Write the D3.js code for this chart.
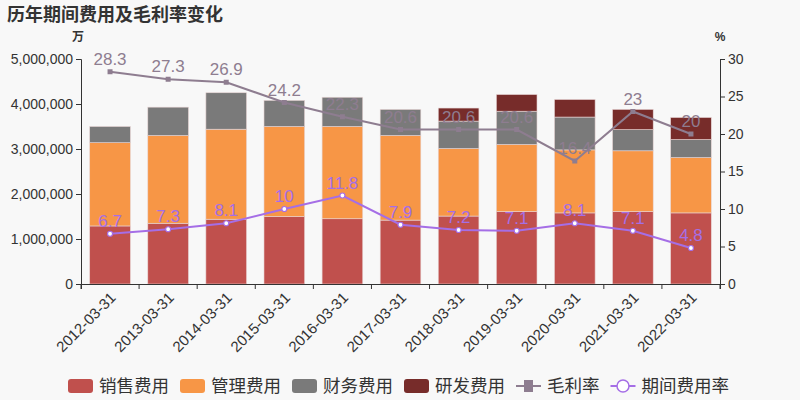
<!DOCTYPE html>
<html>
<head>
<meta charset="utf-8">
<script src="https://cdn.jsdelivr.net/npm/d3@7"></script>
<style>
  body { margin: 0; background: #f8f8f8; }
  svg { font-family: "Liberation Sans", "Noto Sans CJK SC", sans-serif; }
</style>
</head>
<body>
<div id="chart"></div>
<script>
// data, in 万
var years = ["2012-03-31","2013-03-31","2014-03-31","2015-03-31","2016-03-31","2017-03-31",
             "2018-03-31","2019-03-31","2020-03-31","2021-03-31","2022-03-31"];
var sales   = [1290000,1350000,1440000,1500000,1450000,1420000,1510000,1610000,1580000,1610000,1580000];
var admin   = [1850000,1950000,2000000,2000000,2050000,1880000,1500000,1490000,1400000,1350000,1230000];
var finance = [360000,630000,810000,580000,650000,580000,610000,740000,730000,470000,400000];
var rnd     = [0,0,0,0,0,0,290000,370000,390000,450000,490000];
var grossMargin = [28.3,27.3,26.9,24.2,22.3,20.6,20.6,20.6,16.4,23,20];
var expenseRate = [6.7,7.3,8.1,10,11.8,7.9,7.2,7.1,8.1,7.1,4.8];
var leftTicks = [0,1000000,2000000,3000000,4000000,5000000];
var rightTicks = [0,5,10,15,20,25,30];

var seriesNames = ["销售费用","管理费用","财务费用","研发费用"];
var seriesColors = ["#c0504d","#f79646","#7a7a7a","#772c2a"];
var gmColor = "#8e7d90";
var erColor = "#a56ee6";

var svgWidth = 800, svgHeight = 400;
var margin = {top: 59, right: 80, bottom: 116, left: 81};
var chartWidth = svgWidth - margin.left - margin.right;
var chartHeight = svgHeight - margin.top - margin.bottom;

var svg = d3.select("#chart").append("svg")
    .attr("width", svgWidth)
    .attr("height", svgHeight);

svg.append("rect").attr("width", svgWidth).attr("height", svgHeight).attr("fill", "#f8f8f8");

var chartGroup = svg.append("g")
    .attr("transform", `translate(${margin.left}, ${margin.top})`);

var xScale = d3.scaleBand().domain(years).range([0, chartWidth]).padding(0);
var yLeft = d3.scaleLinear().domain([0, 5000000]).range([chartHeight, 0]);
var yRight = d3.scaleLinear().domain([0, 30]).range([chartHeight, 0]);
var barW = xScale.bandwidth() * 0.7;

// stacked bars
var rows = years.map((y, i) => ({year: y, s0: sales[i], s1: admin[i], s2: finance[i], s3: rnd[i]}));
var stack = d3.stack().keys(["s0","s1","s2","s3"])(rows);

stack.forEach(function(layer, k) {
    chartGroup.append("g").selectAll("rect")
        .data(layer)
        .enter()
        .append("rect")
        .attr("x", d => xScale(d.data.year) + xScale.bandwidth() / 2 - barW / 2)
        .attr("y", d => yLeft(d[1]))
        .attr("width", barW)
        .attr("height", d => Math.max(0, yLeft(d[0]) - yLeft(d[1])))
        .attr("fill", seriesColors[k])
        .attr("stroke", d => d[1] > d[0] ? "#e8d6d6" : "none")
        .attr("stroke-width", 0.6);
});

// axes
var xAxis = d3.axisBottom(xScale).tickSize(5).tickFormat("");
var gx = chartGroup.append("g").attr("transform", `translate(0, ${chartHeight})`).call(xAxis);
gx.selectAll(".tick line").attr("transform", `translate(${-xScale.bandwidth() / 2}, 0)`);
gx.append("line").attr("x1", chartWidth).attr("x2", chartWidth).attr("y1", 0).attr("y2", 5).attr("stroke", "#333");
gx.select(".domain").attr("stroke", "#333");
gx.selectAll(".tick line").attr("stroke", "#333");

gx.selectAll(".tick").append("text")
    .attr("fill", "#333")
    .attr("font-size", 15)
    .attr("text-anchor", "end")
    .attr("transform", "translate(3, 11) rotate(-45)")
    .attr("dy", "0.35em")
    .text(d => d);

var gl = chartGroup.append("g").call(d3.axisLeft(yLeft).tickValues(leftTicks).tickSize(5).tickFormat(d3.format(",")));
gl.selectAll("text").attr("font-size", 14).attr("fill", "#333");
gl.select(".domain").attr("stroke", "#333");
gl.selectAll(".tick line").attr("stroke", "#333");

var gr = chartGroup.append("g").attr("transform", `translate(${chartWidth}, 0)`)
    .call(d3.axisRight(yRight).tickValues(rightTicks).tickSize(5));
gr.selectAll("text").attr("font-size", 14).attr("fill", "#333");
gr.select(".domain").attr("stroke", "#333");
gr.selectAll(".tick line").attr("stroke", "#333");

chartGroup.append("text").attr("x", -3).attr("y", -18).attr("text-anchor", "middle")
    .attr("font-size", 12).attr("font-weight", "bold").attr("fill", "#333").text("万");
chartGroup.append("text").attr("x", chartWidth).attr("y", -18).attr("text-anchor", "middle")
    .attr("font-size", 12).attr("font-weight", "bold").attr("fill", "#333").text("%");

// lines
var cx = d => xScale(d) + xScale.bandwidth() / 2;
var gmLine = d3.line().x((d, i) => cx(years[i])).y(d => yRight(d));

chartGroup.append("path").datum(grossMargin)
    .attr("d", gmLine).attr("fill", "none").attr("stroke", gmColor).attr("stroke-width", 2);
chartGroup.selectAll(".gm-pt").data(grossMargin).enter().append("rect")
    .attr("x", (d, i) => cx(years[i]) - 2.5).attr("y", d => yRight(d) - 2.5)
    .attr("width", 5).attr("height", 5).attr("fill", gmColor);
chartGroup.selectAll(".gm-lbl").data(grossMargin).enter().append("text")
    .attr("x", (d, i) => cx(years[i])).attr("y", d => yRight(d) - 7)
    .attr("text-anchor", "middle").attr("font-size", 17).attr("fill", gmColor)
    .text(d => d);

chartGroup.append("path").datum(expenseRate)
    .attr("d", gmLine).attr("fill", "none").attr("stroke", erColor).attr("stroke-width", 2);
chartGroup.selectAll(".er-pt").data(expenseRate).enter().append("circle")
    .attr("cx", (d, i) => cx(years[i])).attr("cy", d => yRight(d))
    .attr("r", 2.5).attr("fill", "#fff").attr("stroke", erColor).attr("stroke-width", 1.2);
chartGroup.selectAll(".er-lbl").data(expenseRate).enter().append("text")
    .attr("x", (d, i) => cx(years[i])).attr("y", d => yRight(d) - 7)
    .attr("text-anchor", "middle").attr("font-size", 17).attr("fill", erColor)
    .text(d => d);

// title
svg.append("text").attr("x", 7).attr("y", 21).attr("font-size", 18).attr("font-weight", "bold")
    .attr("fill", "#333").attr("font-family", "Noto Sans CJK SC").text("历年期间费用及毛利率变化");

// legend
var legend = svg.append("g").attr("transform", "translate(68, 386)");
var lx = 0;
seriesNames.forEach(function(name, k) {
    legend.append("rect").attr("x", lx).attr("y", -7).attr("width", 25).attr("height", 14)
        .attr("rx", 3).attr("fill", seriesColors[k]);
    var t = legend.append("text").attr("x", lx + 31).attr("y", 6).attr("font-size", 17.5)
        .attr("fill", "#333").attr("font-family", "Noto Sans CJK SC").text(name);
    lx += 31 + t.node().getComputedTextLength() + 11;
});
legend.append("line").attr("x1", lx).attr("x2", lx + 25).attr("y1", 0).attr("y2", 0)
    .attr("stroke", gmColor).attr("stroke-width", 2);
legend.append("rect").attr("x", lx + 8).attr("y", -6).attr("width", 9).attr("height", 12).attr("fill", gmColor);
var t1 = legend.append("text").attr("x", lx + 31).attr("y", 6).attr("font-size", 17.5)
    .attr("fill", "#333").attr("font-family", "Noto Sans CJK SC").text("毛利率");
lx += 31 + t1.node().getComputedTextLength() + 11;
legend.append("line").attr("x1", lx).attr("x2", lx + 25).attr("y1", 0).attr("y2", 0)
    .attr("stroke", erColor).attr("stroke-width", 2);
legend.append("circle").attr("cx", lx + 12.5).attr("cy", 0).attr("r", 6)
    .attr("fill", "#fff").attr("stroke", erColor).attr("stroke-width", 1.5);
legend.append("text").attr("x", lx + 31).attr("y", 6).attr("font-size", 17.5)
    .attr("fill", "#333").attr("font-family", "Noto Sans CJK SC").text("期间费用率");
</script>
</body>
</html>
